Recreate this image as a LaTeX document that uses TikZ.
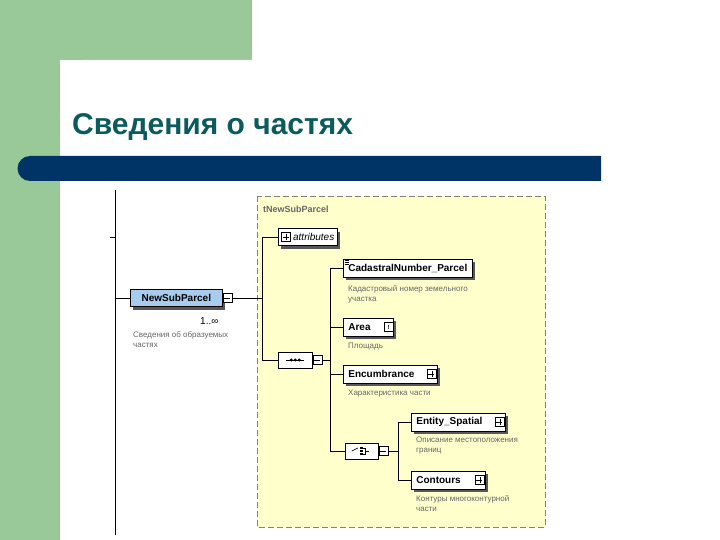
\documentclass[tikz,border=0pt]{standalone}
\usepackage{fontspec}
\setmainfont{Liberation Sans}
\usetikzlibrary{shapes.misc,positioning,shadows}
\definecolor{grn}{HTML}{99C999}
\definecolor{navy}{HTML}{003366}
\definecolor{teal}{HTML}{0B5B5E}
\definecolor{yel}{HTML}{FFFFCC}
\definecolor{blu}{HTML}{A8CCEE}
\definecolor{gtxt}{HTML}{666666}
\tikzset{
 el/.style={draw=black,fill=white,line width=0.7pt,minimum height=18pt,inner xsep=5pt,font=\bfseries\fontsize{10}{10}\selectfont,anchor=west,
   drop shadow={shadow xshift=3pt,shadow yshift=-3pt,fill=gray!70!black,opacity=1}},
 pm/.style={draw=black,fill=white,line width=0.5pt,minimum size=9pt,inner sep=0pt},
 desc/.style={font=\fontsize{8}{10}\selectfont,text=gtxt,anchor=north west,align=left,inner sep=0pt},
 ln/.style={line width=0.6pt},
 oct/.style={draw,fill=white,chamfered rectangle,chamfered rectangle xsep=4pt,minimum width=34pt,minimum height=16pt,inner sep=0pt,line width=0.6pt}
}
\begin{document}
\begin{tikzpicture}[x=1pt,y=-1pt]
\useasboundingbox (0,0) rectangle (720,540);
\fill[white] (0,0) rectangle (720,540);
\fill[grn] (0,0) rectangle (252,60);
\fill[grn] (0,0) rectangle (60,540);
\fill[white] (60,540) -- (60,85) arc[start angle=180,end angle=270,radius=25] -- (252,60) -- (252,200) -- (720,200) -- (720,540) -- cycle;
\fill[white] (252,0) rectangle (720,60);
\fill[navy] (30,156) -- (601,156) -- (601,181) -- (30,181) arc[start angle=90,end angle=270,radius=12.5] -- cycle;
\node[anchor=base west,text=teal,font=\bfseries\fontsize{30}{30}\selectfont,inner sep=0pt] (title) at (72,135) {Сведения о частях};
% left line
\draw[ln] (115,190) -- (115,535);
\draw[ln] (110,237) -- (115,237);
% yellow box
\draw[fill=yel,draw=gray,line width=0.8pt,dash pattern=on 6pt off 3pt] (257,196) rectangle (545,527);
\node[anchor=west,font=\bfseries\fontsize{9}{9}\selectfont,text=gtxt,inner sep=0pt] (tname) at (263,209) {tNewSubParcel};
% root element
\node[el,fill=blu,minimum width=92pt,minimum height=17pt] (root) at (130,298) {NewSubParcel};
\node[pm,right=0pt of root] (rootm) {};
\draw (rootm.west) ++(1.5pt,0) -- ++(6pt,0);
\node[anchor=west,font=\fontsize{10}{10}\selectfont,inner sep=0pt] (card) at (200,321) {1..∞};
\node[desc] (rdesc) at (133,331) {Сведения об образуемых\\частях};
\coordinate (lj) at (115,298);
\draw[ln] (lj) -- (root.west);
\coordinate (j1) at (262,298);
\draw[ln] (rootm.east) -- (j1);
\coordinate (j1t) at (262,237);
\coordinate (j1b) at (262,360);
\draw[ln] (j1t) -- (j1b);
% attributes
\node[el,font=\itshape\fontsize{10}{10}\selectfont,minimum height=17pt,inner xsep=3pt,drop shadow={opacity=0}] (attr) at (278,237) {\phantom{\rule{9pt}{1pt}}\ attributes};
\node[pm] (attrp) at ([xshift=8pt]attr.west) {};
\draw (attrp.west)++(1.5pt,0) -- ++(6pt,0) (attrp.north)++(0,-1.5pt) -- ++(0,-6pt);
\draw[ln] (j1t) -- (attr.west);
% sequence
\node[oct,anchor=west] (seq) at (278,360) {};
\draw[line width=1pt] ([xshift=-9pt]seq.center) -- ([xshift=9pt]seq.center);
\foreach \d in {-4,0,4} \fill ([xshift=\d pt]seq.center) circle (1.6pt);
\node[pm,right=0pt of seq] (seqm) {};
\draw (seqm.west) ++(1.5pt,0) -- ++(6pt,0);
\draw[ln] (j1b) -- (seq.west);
\coordinate (j2) at (330,360);
\draw[ln] (seqm.east) -- (j2);
\coordinate (j2t) at (330,268);
\coordinate (j2b) at (330,451);
\draw[ln] (j2t) -- (j2b);
% Cadastral
\node[el] (cad) at (343,268) {CadastralNumber\_Parcel};
\draw[line width=0.4pt] ([shift={(1.5pt,-2pt)}]cad.north west) -- ++(4pt,0) ([shift={(1.5pt,-4pt)}]cad.north west) -- ++(4pt,0) ([shift={(1.5pt,-6pt)}]cad.north west) -- ++(4pt,0);
\draw[ln] (j2t) -- (cad.west);
\node[desc] (cadd) at (348,285) {Кадастровый номер земельного\\участка};
% Area
\node[el,text width=40pt,align=left] (area) at (343,327) {Area};
\node[pm] (areai) at ([xshift=-5pt]area.east) {\fontsize{6}{6}\selectfont\textbf{!}};
\coordinate (j2a) at (330,327);
\draw[ln] (j2a) -- (area.west);
\node[desc] (aread) at (348,343) {Площадь};
% Encumbrance
\node[el,text width=84pt,align=left] (enc) at (343,374) {Encumbrance};
\node[pm] (encp) at ([xshift=-6pt]enc.east) {};
\draw (encp.west)++(1.5pt,0) -- ++(6pt,0) (encp.north)++(0,-1.5pt) -- ++(0,-6pt);
\coordinate (j2e) at (330,374);
\draw[ln] (j2e) -- (enc.west);
\node[desc] (encd) at (348,390) {Характеристика части};
% choice
\node[oct,anchor=west,minimum width=33pt] (ch) at (345,451) {};
\draw[line width=0.7pt] ([xshift=-10pt]ch.center) -- ([xshift=-4pt,yshift=3pt]ch.center);
\fill ([xshift=-2pt,yshift=4pt]ch.center) rectangle ([xshift=1pt,yshift=2pt]ch.center);
\fill ([xshift=-2pt,yshift=1pt]ch.center) rectangle ([xshift=1pt,yshift=-1pt]ch.center);
\fill ([xshift=-2pt,yshift=-2pt]ch.center) rectangle ([xshift=1pt,yshift=-4pt]ch.center);
\draw[line width=0.5pt] ([xshift=1pt,yshift=3pt]ch.center) -- ([xshift=3pt,yshift=3pt]ch.center) -- ([xshift=3pt,yshift=-3pt]ch.center) -- ([xshift=1pt,yshift=-3pt]ch.center) ([xshift=3pt]ch.center) -- ([xshift=7pt]ch.center);
\node[pm,right=0pt of ch] (chm) {};
\draw (chm.west) ++(1.5pt,0) -- ++(6pt,0);
\draw[ln] (j2b) -- (ch.west);
\coordinate (j3) at (398,451);
\draw[ln] (chm.east) -- (j3);
\coordinate (j3t) at (398,422);
\coordinate (j3b) at (398,480);
\draw[ln] (j3t) -- (j3b);
\node[el,text width=84pt,align=left] (ent) at (411,422) {Entity\_Spatial};
\node[pm] (entp) at ([xshift=-6pt]ent.east) {};
\draw (entp.west)++(1.5pt,0) -- ++(6pt,0) (entp.north)++(0,-1.5pt) -- ++(0,-6pt);
\draw[ln] (j3t) -- (ent.west);
\node[desc] (entd) at (416,437) {Описание местоположения\\границ};
\node[el,text width=64pt,align=left] (con) at (411,480) {Contours};
\node[pm] (conp) at ([xshift=-6pt]con.east) {};
\draw (conp.west)++(1.5pt,0) -- ++(6pt,0) (conp.north)++(0,-1.5pt) -- ++(0,-6pt);
\draw[ln] (j3b) -- (con.west);
\node[desc] (cond) at (416,495) {Контуры многоконтурной\\части};
\end{tikzpicture}
\end{document}
